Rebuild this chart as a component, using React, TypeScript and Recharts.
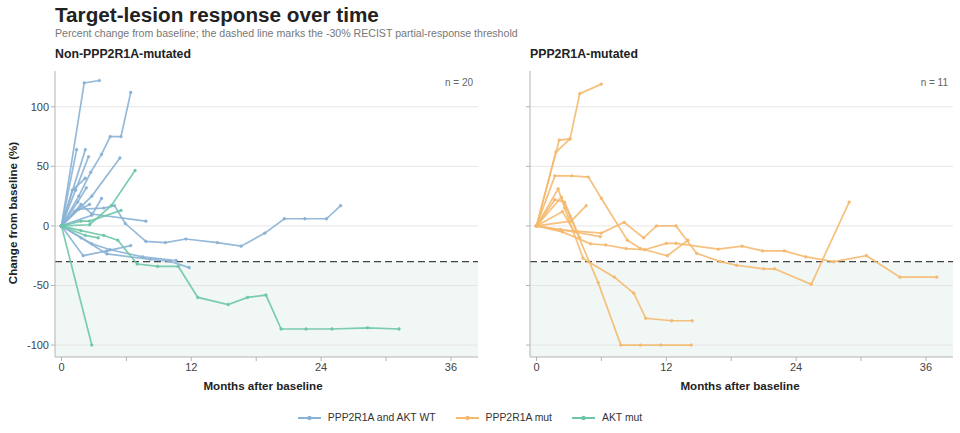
import { LineChart, Line, XAxis, YAxis, ReferenceLine, ReferenceArea } from "recharts";

// colours per group
const WT_COLOR = "#89b2d5";
const PPP_COLOR = "#f5b96f";
const AKT_COLOR = "#6ec6aa";

// axis ticks
const monthTicks = [0, 6, 12, 18, 24, 30, 36];
const pctTicks = [-100, -50, 0, 50, 100];

// Non-PPP2R1A-mutated: PPP2R1A and AKT WT, [month, % change]
const wt01 = [[0, 0], [2.1, 120], [3.5, 122]];
const wt02 = [[0, 0], [1.6, 25], [2.7, 45], [3.7, 60], [4.5, 75], [5.5, 75], [6.4, 112]];
const wt03 = [[0, 0], [1.4, 64]];
const wt04 = [[0, 0], [2.2, 64]];
const wt05 = [[0, 0], [1.3, 30], [2.5, 58]];
const wt06 = [[0, 0], [2.8, 25], [5.4, 57]];
const wt07 = [[0, 0], [1.5, 20], [2.3, 32]];
const wt08 = [[0, 0], [2.8, 9], [3.7, 23]];
const wt09 = [[0, 0], [1.8, 18], [2.8, 10], [7.8, 4]];
const wt10 = [[0, 0], [1.6, 14], [3.9, 15], [4.9, 17], [5.9, 2], [7.8, -13], [9.6, -14], [11.5, -11], [14.4, -14], [16.6, -17], [18.8, -6], [20.6, 6], [22.5, 6], [24.5, 6], [25.8, 17]];
const wt11 = [[0, 0], [2.0, -25], [4.2, -21], [6.4, -16.5]];
const wt12 = [[0, 0], [1.8, -10], [4.2, -23.5], [8.2, -28], [10.0, -29.5], [11.8, -35]];
const wt13 = [[0, 0], [2.8, -15], [4.5, -20], [7.5, -26], [10.6, -29]];
const wt14 = [[0, 0], [1.2, 12], [2.6, 18]];
const wt15 = [[0, 0], [1.0, 30], [2.2, 40]];

// Non-PPP2R1A-mutated: AKT mut
const akt01 = [[0, 0], [1.8, 4], [2.6, 4], [5.5, 13]];
const akt02 = [[0, 0], [2.6, 1], [4.6, 17], [6.8, 46.5]];
const akt03 = [[0, 0], [2.8, -100]];
const akt04 = [[0, 0], [1.8, -4], [3.9, -8], [5.2, -12], [7.0, -32], [8.9, -34], [10.8, -34], [12.6, -60], [15.4, -66], [17.2, -60], [18.9, -58], [20.3, -86.5], [22.6, -86.5], [25.0, -86.5], [28.3, -85.5], [31.2, -86.5]];
const akt05 = [[0, 0], [2.2, -8], [3.4, -10]];

// PPP2R1A-mutated
const ppp01 = [[0, 0], [2.1, 72], [3.1, 73], [4.0, 111], [6.0, 119]];
const ppp02 = [[0, 0], [1.8, 62], [3.1, 73]];
const ppp03 = [[0, 0], [1.7, 42], [3.25, 42], [4.8, 41], [6.0, 23], [8.4, -12], [9.6, -19], [12.1, -25], [14.0, -12]];
const ppp04 = [[0, 0], [2.2, -3.4], [6.0, -6], [8.1, 3], [9.9, -10], [11.1, 0], [12.9, 0], [14.8, -23], [17.0, -30], [18.5, -33], [21.0, -36], [22.0, -36], [25.4, -49], [28.9, 20]];
const ppp05 = [[0, 0], [2.4, -5], [5.0, -15], [6.4, -16], [8.3, -19], [10.0, -20], [12.0, -14.6], [12.9, -14.6], [16.8, -19.5], [19.0, -17], [20.9, -21], [22.9, -21], [24.9, -26], [27.5, -30], [30.5, -25], [33.6, -43], [37.0, -43]];
const ppp06 = [[0, 0], [2.0, 31], [2.6, 15], [4.3, -27], [4.8, -30], [7.2, -43], [9.0, -56.5], [10.1, -77.5], [12.5, -79.6], [14.4, -79.6]];
const ppp07 = [[0, 0], [2.3, 24], [3.1, 8], [5.7, -47.6], [7.8, -100], [9.6, -100], [11.5, -100], [14.3, -100]];
const ppp08 = [[0, 0], [2.2, -3], [5.9, -9]];
const ppp09 = [[0, 0], [3.2, 4], [4.6, 17]];
const ppp10 = [[0, 0], [1.7, 22], [2.6, 20], [4.0, -10]];
const ppp11 = [[0, 0], [2.4, 12], [3.5, -5]];

const wtSeries = [wt01, wt02, wt03, wt04, wt05, wt06, wt07, wt08, wt09, wt10, wt11, wt12, wt13, wt14, wt15];
const aktSeries = [akt01, akt02, akt03, akt04, akt05];
const pppSeries = [ppp01, ppp02, ppp03, ppp04, ppp05, ppp06, ppp07, ppp08, ppp09, ppp10, ppp11];

const toRows = (pts: number[][]) => pts.map(([x, y]) => ({ x, y }));

const FONT = "'Liberation Sans', Arial, Helvetica, sans-serif";
const AXIS = "#b3b3b3";

type Group = { color: string; series: number[][][] };

const Panel = ({ groups, showLabels, n }: { groups: Group[]; showLabels: boolean; n: number }) => (
  <div style={{ position: "relative", width: 490, height: 330 }}>
    <LineChart width={490} height={330} margin={{ top: 11, right: 12, bottom: 0, left: 0 }}>
      <ReferenceArea y1={-110} y2={-30} fill="#f1f7f5" fillOpacity={1} stroke="none" ifOverflow="hidden" />
      {/* horizontal grid only at the labelled ticks */}
      {pctTicks.map((t) => (
        <ReferenceLine key={t} y={t} stroke="#e6e6e6" strokeWidth={1} />
      ))}
      <XAxis
        type="number"
        dataKey="x"
        domain={[-0.6, 38.5]}
        ticks={monthTicks}
        tickFormatter={(v: number) => (v % 12 === 0 ? String(v) : "")}
        allowDataOverflow
        height={33}
        stroke={AXIS}
        tickSize={4}
        tick={{ fontSize: 11, fill: "#444", fontFamily: FONT }}
      />
      <YAxis
        type="number"
        domain={[-110, 130]}
        ticks={pctTicks}
        allowDataOverflow
        width={55}
        stroke={AXIS}
        tickSize={4}
        tickFormatter={(v: number) => (showLabels ? String(v) : "")}
        tick={{ fontSize: 11, fill: "#444", fontFamily: FONT }}
      />
      <ReferenceLine y={-30} stroke="#444" strokeDasharray="7 4" strokeWidth={1.3} />
      {groups.flatMap((g, gi) =>
        g.series.map((pts, i) => (
          <Line
            key={`${gi}-${i}`}
            data={toRows(pts)}
            dataKey="y"
            type="linear"
            stroke={g.color}
            strokeWidth={1.7}
            strokeOpacity={0.9}
            dot={{ r: 1.4, fill: g.color, stroke: g.color, strokeWidth: 0.5 }}
            activeDot={false}
            isAnimationActive={false}
          />
        ))
      )}
    </LineChart>
    <div style={{ position: "absolute", right: 17, top: 17, fontSize: 10, color: "#666", fontFamily: FONT }}>n = {n}</div>
  </div>
);

const LegendItem = ({ color, label }: { color: string; label: string }) => (
  <div style={{ display: "flex", alignItems: "center", marginRight: 20 }}>
    <svg width={23} height={8} style={{ marginRight: 7 }}>
      <line x1={0} y1={4} x2={23} y2={4} stroke={color} strokeWidth={2} />
      <circle cx={11.5} cy={4} r={2.2} fill={color} />
    </svg>
    <span>{label}</span>
  </div>
);

export default function App() {
  return (
    <div style={{ position: "absolute", left: 0, top: 0, width: 960, height: 433, background: "#fff", fontFamily: FONT, overflow: "hidden" }}>
      <div style={{ position: "absolute", left: 55, top: 3, fontSize: 20.7, fontWeight: 700, color: "#222" }}>Target-lesion response over time</div>
      <div style={{ position: "absolute", left: 55, top: 27, fontSize: 10.6, color: "#777" }}>
        Percent change from baseline; the dashed line marks the -30% RECIST partial-response threshold
      </div>
      <div style={{ position: "absolute", left: 55, top: 47, fontSize: 12.3, fontWeight: 700, color: "#222" }}>Non-PPP2R1A-mutated</div>
      <div style={{ position: "absolute", left: 530, top: 47, fontSize: 12.3, fontWeight: 700, color: "#222" }}>PPP2R1A-mutated</div>

      <div style={{ position: "absolute", left: 0, top: 60 }}>
        <Panel groups={[{ color: WT_COLOR, series: wtSeries }, { color: AKT_COLOR, series: aktSeries }]} showLabels n={20} />
      </div>
      <div style={{ position: "absolute", left: 475, top: 60 }}>
        <Panel groups={[{ color: PPP_COLOR, series: pppSeries }]} showLabels={false} n={11} />
      </div>

      <div
        style={{
          position: "absolute",
          left: 12,
          top: 213,
          transform: "translate(-50%, -50%) rotate(-90deg)",
          fontSize: 11.6,
          fontWeight: 700,
          color: "#222",
          whiteSpace: "nowrap",
        }}
      >
        Change from baseline (%)
      </div>
      <div style={{ position: "absolute", left: 263, top: 379, transform: "translateX(-50%)", fontSize: 11.6, fontWeight: 700, color: "#222", whiteSpace: "nowrap" }}>
        Months after baseline
      </div>
      <div style={{ position: "absolute", left: 740, top: 379, transform: "translateX(-50%)", fontSize: 11.6, fontWeight: 700, color: "#222", whiteSpace: "nowrap" }}>
        Months after baseline
      </div>

      <div style={{ position: "absolute", left: 0, width: 960, top: 412, display: "flex", justifyContent: "center", fontSize: 10.4, color: "#333" }}>
        <LegendItem color={WT_COLOR} label="PPP2R1A and AKT WT" />
        <LegendItem color={PPP_COLOR} label="PPP2R1A mut" />
        <LegendItem color={AKT_COLOR} label="AKT mut" />
      </div>
    </div>
  );
}
